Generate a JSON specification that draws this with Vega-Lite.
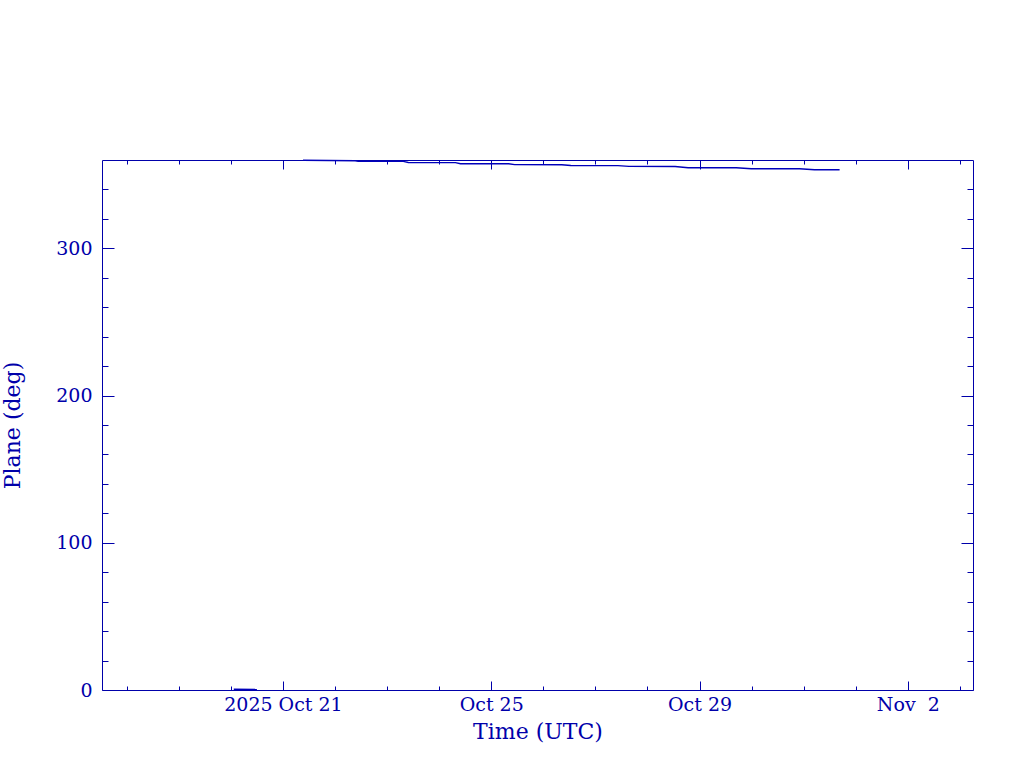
{
  "$schema": "https://vega.github.io/schema/vega-lite/v6.json",
  "autosize": {"type": "none"},
  "padding": {"left": 102, "top": 160, "right": 51, "bottom": 78},
  "width": 871,
  "height": 530,
  "background": "white",
  "config": {
    "view": {"stroke": "#0000aa", "strokeWidth": 1},
    "axis": {
      "domain": false,
      "grid": false,
      "labelFont": "DejaVu Serif",
      "labelFontSize": 19,
      "labelColor": "#0000aa",
      "titleFont": "DejaVu Serif",
      "titleFontSize": 22,
      "titleFontWeight": "normal",
      "titleColor": "#0000aa",
      "tickColor": "#0000aa",
      "tickWidth": 1,
      "labelOverlap": false,
      "labelFlush": false
    }
  },
  "data": {
    "values": [
      {"t": "2025-10-20T01:20:00Z", "plane": 0.5, "seg": "a"},
      {"t": "2025-10-20T12:00:00Z", "plane": 0.3, "seg": "a"},
      {"t": "2025-10-21T09:15:00Z", "plane": 359.86, "seg": "b"},
      {"t": "2025-10-22T09:17:00Z", "plane": 359.52, "seg": "b"},
      {"t": "2025-10-22T10:40:00Z", "plane": 359.18, "seg": "b"},
      {"t": "2025-10-23T07:28:00Z", "plane": 359.05, "seg": "b"},
      {"t": "2025-10-23T09:47:00Z", "plane": 358.3, "seg": "b"},
      {"t": "2025-10-24T07:31:00Z", "plane": 358.23, "seg": "b"},
      {"t": "2025-10-24T09:49:00Z", "plane": 357.48, "seg": "b"},
      {"t": "2025-10-25T08:01:00Z", "plane": 357.41, "seg": "b"},
      {"t": "2025-10-25T10:47:00Z", "plane": 356.87, "seg": "b"},
      {"t": "2025-10-26T08:30:00Z", "plane": 356.8, "seg": "b"},
      {"t": "2025-10-26T12:40:00Z", "plane": 356.26, "seg": "b"},
      {"t": "2025-10-27T10:24:00Z", "plane": 356.19, "seg": "b"},
      {"t": "2025-10-27T15:29:00Z", "plane": 355.65, "seg": "b"},
      {"t": "2025-10-28T12:44:00Z", "plane": 355.58, "seg": "b"},
      {"t": "2025-10-28T18:45:00Z", "plane": 354.76, "seg": "b"},
      {"t": "2025-10-29T16:57:00Z", "plane": 354.69, "seg": "b"},
      {"t": "2025-10-29T23:53:00Z", "plane": 354.08, "seg": "b"},
      {"t": "2025-10-30T22:03:00Z", "plane": 354.01, "seg": "b"},
      {"t": "2025-10-31T04:59:00Z", "plane": 353.4, "seg": "b"},
      {"t": "2025-10-31T16:34:00Z", "plane": 353.33, "seg": "b"}
    ]
  },
  "resolve": {"axis": {"x": "independent", "y": "independent"}},
  "layer": [
    {
      "mark": {"type": "line", "color": "#0000bb", "strokeWidth": 1.4},
      "encoding": {
        "x": {
          "field": "t", "type": "temporal",
          "scale": {"type": "utc", "domain": [
            {"year": 2025, "month": 10, "date": 17, "hours": 12, "minutes": 36, "utc": true},
            {"year": 2025, "month": 11, "date": 3, "hours": 6, "minutes": 3, "utc": true}
          ], "nice": false},
          "axis": {
            "orient": "bottom", "ticks": false, "labelPadding": 20, "labelBaseline": "alphabetic",
            "values": [
              {"year": 2025, "month": 10, "date": 21, "utc": true},
              {"year": 2025, "month": 10, "date": 25, "utc": true},
              {"year": 2025, "month": 10, "date": 29, "utc": true},
              {"year": 2025, "month": 11, "date": 2, "utc": true}
            ],
            "labelExpr": "(utcdate(datum.value) == 21 && utcmonth(datum.value) == 9 ? '2025 ' : '') + utcFormat(datum.value, '%b') + ' ' + (utcdate(datum.value) < 10 ? '\u00a0' : '') + utcdate(datum.value)",
            "title": "Time (UTC)", "titleY": 48, "titleBaseline": "alphabetic"
          }
        },
        "y": {
          "field": "plane", "type": "quantitative",
          "scale": {"domain": [0, 360], "nice": false, "zero": false},
          "axis": {
            "orient": "left", "ticks": false, "labelPadding": 10,
            "values": [0, 100, 200, 300],
            "title": "Plane (deg)", "titleX": -83, "titleY": 265, "titleBaseline": "alphabetic", "titleAngle": 270
          }
        },
        "detail": {"field": "seg"}
      }
    },
    {
      "mark": {"type": "point", "opacity": 0},
      "encoding": {
        "x": {"field": "t", "type": "temporal", "axis": {
          "orient": "bottom", "labels": false, "title": null, "tickSize": -9,
          "values": [
            {"year": 2025, "month": 10, "date": 21, "utc": true},
            {"year": 2025, "month": 10, "date": 25, "utc": true},
            {"year": 2025, "month": 10, "date": 29, "utc": true},
            {"year": 2025, "month": 11, "date": 2, "utc": true}
          ]}},
        "y": {"field": "plane", "type": "quantitative", "axis": {
          "orient": "left", "labels": false, "title": null, "tickSize": -12,
          "values": [0, 100, 200, 300]}}
      }
    },
    {
      "mark": {"type": "point", "opacity": 0},
      "encoding": {
        "x": {"field": "t", "type": "temporal", "axis": {
          "orient": "top", "labels": false, "title": null, "tickSize": -9,
          "values": [
            {"year": 2025, "month": 10, "date": 21, "utc": true},
            {"year": 2025, "month": 10, "date": 25, "utc": true},
            {"year": 2025, "month": 10, "date": 29, "utc": true},
            {"year": 2025, "month": 11, "date": 2, "utc": true}
          ]}},
        "y": {"field": "plane", "type": "quantitative", "axis": {
          "orient": "right", "labels": false, "title": null, "tickSize": -12,
          "values": [0, 100, 200, 300]}}
      }
    },
    {
      "mark": {"type": "point", "opacity": 0},
      "encoding": {
        "x": {"field": "t", "type": "temporal", "axis": {
          "orient": "bottom", "labels": false, "title": null, "tickSize": -4,
          "values": [
            {"year": 2025, "month": 10, "date": 18, "utc": true},
            {"year": 2025, "month": 10, "date": 19, "utc": true},
            {"year": 2025, "month": 10, "date": 20, "utc": true},
            {"year": 2025, "month": 10, "date": 22, "utc": true},
            {"year": 2025, "month": 10, "date": 23, "utc": true},
            {"year": 2025, "month": 10, "date": 24, "utc": true},
            {"year": 2025, "month": 10, "date": 26, "utc": true},
            {"year": 2025, "month": 10, "date": 27, "utc": true},
            {"year": 2025, "month": 10, "date": 28, "utc": true},
            {"year": 2025, "month": 10, "date": 30, "utc": true},
            {"year": 2025, "month": 10, "date": 31, "utc": true},
            {"year": 2025, "month": 11, "date": 1, "utc": true},
            {"year": 2025, "month": 11, "date": 3, "utc": true}
          ]}},
        "y": {"field": "plane", "type": "quantitative", "axis": {
          "orient": "left", "labels": false, "title": null, "tickSize": -6,
          "values": [20, 40, 60, 80, 120, 140, 160, 180, 220, 240, 260, 280, 320, 340]}}
      }
    },
    {
      "mark": {"type": "point", "opacity": 0},
      "encoding": {
        "x": {"field": "t", "type": "temporal", "axis": {
          "orient": "top", "labels": false, "title": null, "tickSize": -4,
          "values": [
            {"year": 2025, "month": 10, "date": 18, "utc": true},
            {"year": 2025, "month": 10, "date": 19, "utc": true},
            {"year": 2025, "month": 10, "date": 20, "utc": true},
            {"year": 2025, "month": 10, "date": 22, "utc": true},
            {"year": 2025, "month": 10, "date": 23, "utc": true},
            {"year": 2025, "month": 10, "date": 24, "utc": true},
            {"year": 2025, "month": 10, "date": 26, "utc": true},
            {"year": 2025, "month": 10, "date": 27, "utc": true},
            {"year": 2025, "month": 10, "date": 28, "utc": true},
            {"year": 2025, "month": 10, "date": 30, "utc": true},
            {"year": 2025, "month": 10, "date": 31, "utc": true},
            {"year": 2025, "month": 11, "date": 1, "utc": true},
            {"year": 2025, "month": 11, "date": 3, "utc": true}
          ]}},
        "y": {"field": "plane", "type": "quantitative", "axis": {
          "orient": "right", "labels": false, "title": null, "tickSize": -6,
          "values": [20, 40, 60, 80, 120, 140, 160, 180, 220, 240, 260, 280, 320, 340]}}
      }
    }
  ]
}
